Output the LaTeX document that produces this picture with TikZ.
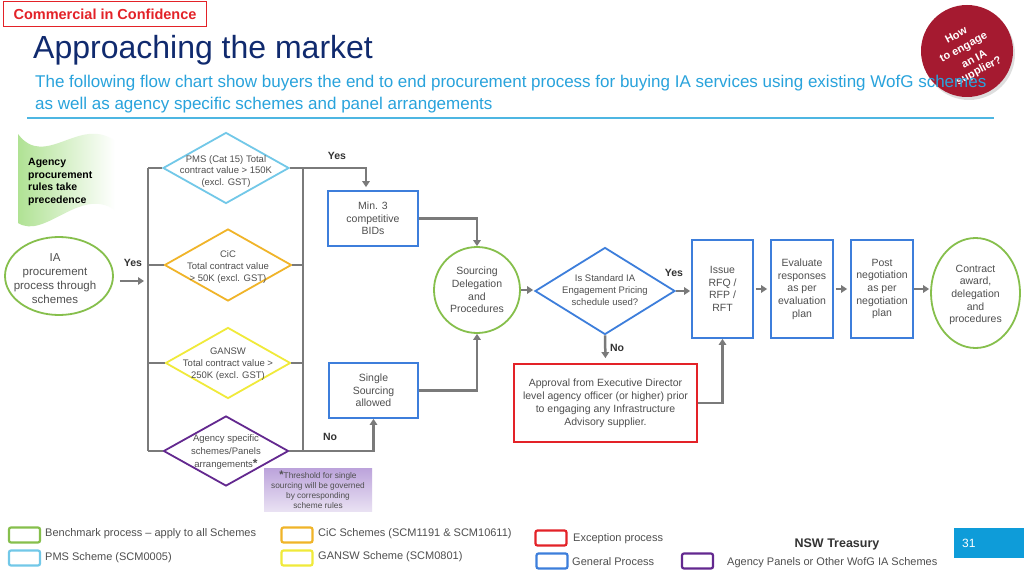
\documentclass[tikz,border=0pt]{standalone}
\usepackage{fontspec}
\setmainfont{Liberation Sans}
\usetikzlibrary{shapes.geometric,arrows.meta,calc}
\definecolor{navy}{HTML}{102A6E}
\definecolor{subblue}{HTML}{29A3DC}
\definecolor{ruleblue}{HTML}{4DB6E2}
\definecolor{crim}{HTML}{A51A30}
\definecolor{greenc}{HTML}{86BF4C}
\definecolor{bluec}{HTML}{3D7EDB}
\definecolor{pmsc}{HTML}{72C8E8}
\definecolor{cicc}{HTML}{F0B429}
\definecolor{ganc}{HTML}{F0EA3A}
\definecolor{purc}{HTML}{63288F}
\definecolor{redc}{HTML}{E32228}
\definecolor{connc}{HTML}{7A7A7A}
\definecolor{txtc}{HTML}{4F4F4F}
\definecolor{darktxt}{HTML}{333333}
\definecolor{pgblue}{HTML}{0E9CD9}
\definecolor{bannerg}{HTML}{B0E294}
\definecolor{notetop}{HTML}{BCA3DB}
\definecolor{notebot}{HTML}{E9E1F3}
\begin{document}
\begin{tikzpicture}[x=1pt,y=-1pt,
  ntext/.style={text=txtc, align=center, font=\fontsize{10.5}{12.7}\selectfont},
  proc/.style={ntext, draw=bluec, line width=1.8pt, fill=white, inner sep=1pt},
  bench/.style={ntext, ellipse, draw=greenc, line width=1.8pt, fill=white, inner sep=0pt},
  dia/.style={diamond, line width=1.8pt, fill=white, inner sep=0pt},
  dtext/.style={text=txtc, align=center, font=\fontsize{9.5}{11.7}\selectfont, inner sep=0pt},
  wire/.style={draw=connc, line width=2.5pt},
  conn/.style={wire, -{Triangle[length=6pt,width=7.5pt]}},
  yn/.style={text=darktxt, font=\bfseries\fontsize{10.5}{12}\selectfont, inner sep=0pt},
  legbox/.style={rounded corners=2pt, line width=2.2pt, fill=white, minimum width=31pt, minimum height=15pt, inner sep=0pt},
  legtext/.style={anchor=west, text=txtc, font=\fontsize{11}{12}\selectfont, inner sep=0pt},
  badgeline/.style={rotate=28, text=white, font=\bfseries\fontsize{11}{12}\selectfont, inner sep=0pt},
]
\useasboundingbox (0,0) rectangle (1024,575);
\fill[white] (0,0) rectangle (1024,575);

% header
\node[draw=redc, line width=1.8pt, text=redc, font=\bfseries\fontsize{14.5}{16}\selectfont,
  minimum width=203pt, minimum height=25pt, inner sep=0pt] (cic0) at (105,14) {Commercial in Confidence};
\node[anchor=base west, inner sep=0pt, text=navy, font=\fontsize{32}{34}\selectfont] (title) at (33,59) {Approaching the market};
\fill[black!25, opacity=0.5] (969,54) circle (46);
\node[circle, fill=crim, minimum size=92pt, inner sep=0pt] (badge) at (967,51) {};
\node[badgeline] (bt1) at (956,35) {How};
\node[badgeline] (bt2) at (964,48) {to engage};
\node[badgeline] (bt3) at (974,59) {an IA};
\node[badgeline] (bt4) at (979,71) {supplier?};
\node[anchor=base west, inner sep=0pt, text=subblue, font=\fontsize{17}{19}\selectfont] (sub1) at (35,88) {The following flow chart show buyers the end to end procurement process for buying IA services using existing WofG schemes};
\node[anchor=base west, inner sep=0pt, text=subblue, font=\fontsize{17}{19}\selectfont] (sub2) at (35,110) {as well as agency specific schemes and panel arrangements};
\draw[ruleblue, line width=1.8pt] (27,118) -- (994,118);

% banner
\shade[left color=bannerg, right color=white] (18,134) .. controls (45,170) and (80,115) .. (115,141) -- (115,210) .. controls (80,186) and (45,240) .. (18,223) -- cycle;
\node[anchor=west, align=left, text=black, font=\bfseries\fontsize{10.5}{12.8}\selectfont, inner sep=0pt] (rules) at (28,182) {Agency\\procurement\\rules take\\precedence};

% note
\node[top color=notetop, bottom color=notebot, minimum width=108pt, minimum height=43pt, inner sep=0pt,
  text=txtc, align=center, font=\fontsize{8.3}{10}\selectfont] (thr) at (318,489.5)
  {\textbf{\fontsize{11}{10}\selectfont *}Threshold for single\\sourcing will be governed\\by corresponding\\scheme rules};

% nodes
\node[bench, minimum width=108pt, minimum height=78pt] (ia) at (59,276) {};
\node[ntext, inner sep=0pt, font=\fontsize{11.5}{14}\selectfont] (iat) at (55,279) {IA\\procurement\\process through\\schemes};
\coordinate (bLt) at (148,168);
\coordinate (bLb) at (148,451);
\coordinate (bRt) at (303,168);
\coordinate (bRb) at (303,451);
\draw[wire] (bLt) -- (bLb);
\draw[wire] (bRt) -- (bRb);

\node[dia, draw=pmsc, minimum width=126pt, minimum height=71pt] (pms) at (226,168) {};
\node[dia, draw=cicc, minimum width=127pt, minimum height=72pt] (cic) at (228,265) {};
\node[dia, draw=ganc, minimum width=125pt, minimum height=71pt] (gan) at (228,363) {};
\node[dia, draw=purc, minimum width=125pt, minimum height=70pt] (agy) at (226,451) {};

\draw[wire] (bLt) -- (pms.west);
\draw[wire] (pms.east) -- (bRt);
\draw[wire] (cic.west -| bLt) -- (cic.west);
\draw[wire] (cic.east) -- (cic.east -| bRt);
\draw[wire] (gan.west -| bLt) -- (gan.west);
\draw[wire] (gan.east) -- (gan.east -| bRt);
\draw[wire] (bLb) -- (agy.west);
\draw[wire] (agy.east) -- (bRb);

\node[dtext] (pmst) at (226,171.5) {PMS (Cat 15) Total\\contract value > 150K\\(excl. GST)};
\node[dtext] (cict) at (228,267) {CiC\\Total contract value\\> 50K (excl. GST)};
\node[dtext] (gant) at (228,364) {GANSW\\Total contract value >\\250K (excl. GST)};
\node[dtext, font=\fontsize{9.5}{13}\selectfont] (agyt) at (226,452) {Agency specific\\schemes/Panels\\arrangements\textbf{\fontsize{12}{10}\selectfont *}};

\node[proc, minimum width=90pt, minimum height=55pt] (min3) at (373,218.5) {Min. 3\\competitive\\BIDs};
\node[proc, minimum width=89pt, minimum height=55pt] (single) at (373.5,390.5) {Single\\Sourcing\\allowed};
\node[bench, circle, minimum size=86pt] (src) at (477,290) {Sourcing\\Delegation\\and\\Procedures};
\node[dia, draw=bluec, minimum width=140pt, minimum height=87pt] (std) at (605,291) {};
\node[dtext, font=\fontsize{9.5}{12}\selectfont] (stdt) at (605,290) {Is Standard IA\\Engagement Pricing\\schedule used?};
\node[ntext, draw=redc, line width=1.8pt, fill=white, minimum width=183pt, minimum height=78pt, inner sep=0pt, font=\fontsize{10.5}{13}\selectfont] (appr) at (605.5,403) {Approval from Executive Director\\level agency officer (or higher) prior\\to engaging any Infrastructure\\Advisory supplier.};
\node[proc, minimum width=61pt, minimum height=98pt] (issue) at (722.5,289) {Issue\\RFQ /\\RFP /\\RFT};
\node[proc, minimum width=62pt, minimum height=98pt] (eval) at (802,289) {Evaluate\\responses\\as per\\evaluation\\plan};
\node[proc, minimum width=62pt, minimum height=98pt] (post) at (882,289) {Post\\negotiation\\as per\\negotiation\\plan};
\node[bench, minimum width=89pt, minimum height=110pt] (contract) at (975.5,293) {};
\node[ntext, inner sep=0pt] (contractt) at (975.5,295) {Contract\\award,\\delegation\\and\\procedures};

% connectors
\coordinate (bLm) at (148,281);
\draw[conn, shorten <=6pt, shorten >=4pt] (ia.east |- bLm) -- (bLm);
\draw[conn, shorten >=3pt] (bRt) -| ([xshift=-7pt]min3.north);
\draw[conn] (bRb) -| (single.south);
\draw[conn] (min3.east) -| (src.north);
\draw[conn] (single.east) -| (src.south);
\draw[conn, shorten >=1pt] (src.east) -- (src.east -| std.west);
\draw[conn, shorten >=1pt] (std.east) -- (std.east -| issue.west);
\draw[conn, shorten >=5pt] (std.south) -- (appr.north);
\draw[conn] (appr.east) -| (issue.south);
\draw[conn, shorten <=2pt, shorten >=3pt] (issue.east) -- (eval.west);
\draw[conn, shorten <=2pt, shorten >=3pt] (eval.east) -- (post.west);
\draw[conn, shorten >=1pt] (post.east) -- (post.east -| contract.west);

\node[yn] (y1) at (133,263) {Yes};
\node[yn] (y2) at (337,156) {Yes};
\node[yn] (y3) at (674,273) {Yes};
\node[yn] (n1) at (330,437) {No};
\node[yn] (n2) at (617,348) {No};

% legend
\node[legbox, draw=greenc] (lg1) at (24.5,535) {};
\node[legtext] (lt1) at (45,534) {Benchmark process -- apply to all Schemes};
\node[legbox, draw=pmsc] (lg2) at (24.5,558) {};
\node[legtext] (lt2) at (45,558) {PMS Scheme (SCM0005)};
\node[legbox, draw=cicc] (lg3) at (297,535) {};
\node[legtext] (lt3) at (318,534) {CiC Schemes (SCM1191 \& SCM10611)};
\node[legbox, draw=ganc] (lg4) at (297,558) {};
\node[legtext] (lt4) at (318,557) {GANSW Scheme (SCM0801)};
\node[legbox, draw=redc] (lg5) at (551,538) {};
\node[legtext] (lt5) at (573,539) {Exception process};
\node[legbox, draw=bluec] (lg6) at (552,561) {};
\node[legtext] (lt6) at (572,562) {General Process};
\node[legbox, draw=purc] (lg7) at (697.5,561) {};
\node[legtext] (lt7) at (727,563) {Agency Panels or Other WofG IA Schemes};
\node[text=darktxt, font=\bfseries\fontsize{12.5}{14}\selectfont, inner sep=0pt] (nsw) at (837,544) {NSW Treasury};
\node[fill=pgblue, minimum width=70pt, minimum height=30pt, inner sep=0pt, anchor=north west] (pg) at (954,528) {};
\node[anchor=west, text=white, font=\fontsize{12}{14}\selectfont, inner sep=0pt] (pgn) at ([xshift=8pt]pg.west) {31};
\end{tikzpicture}
\end{document}
